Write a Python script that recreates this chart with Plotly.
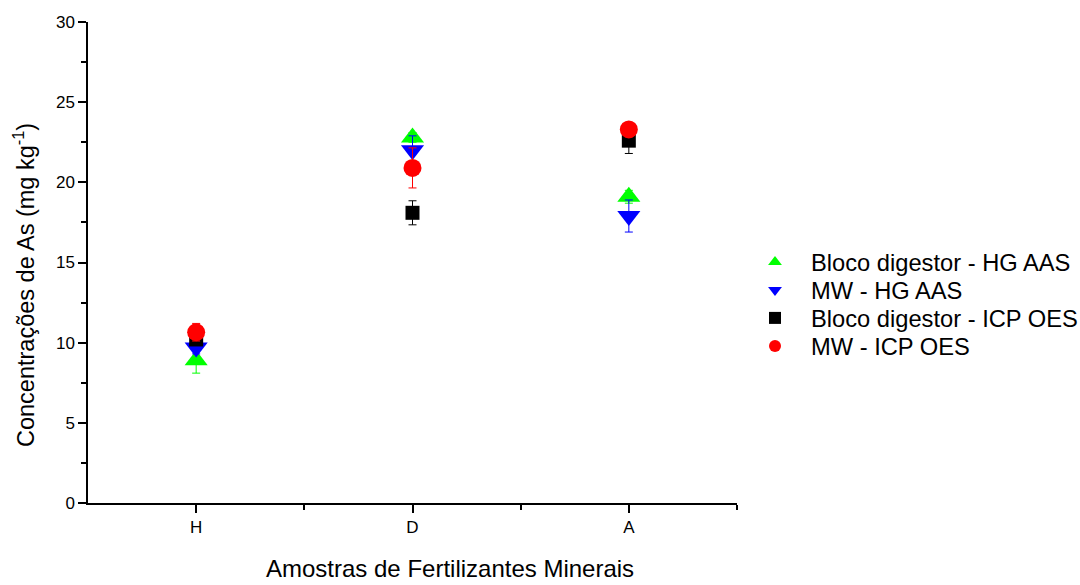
import plotly.graph_objects as go

# Fertilizer samples and arsenic concentrations (mg/kg)
samples = ["H", "D", "A"]
sample_pos = [1, 2, 3]

bloco_hg = [8.9, 22.8, 19.1]
bloco_hg_err = [0.8, 0.3, 0.4]

mw_hg = [9.7, 22.0, 17.9]
mw_hg_err = [0.4, 0.9, 1.0]

bloco_icp = [10.2, 18.1, 22.6]
bloco_icp_err = [0.3, 0.75, 0.8]

mw_icp = [10.65, 20.9, 23.3]
mw_icp_err = [0.55, 1.25, 0.3]

series = [
    ("Bloco digestor - HG AAS", bloco_hg, bloco_hg_err, "triangle-up", "#00ff00", 20),
    ("MW - HG AAS", mw_hg, mw_hg_err, "triangle-down", "#0000ff", 20),
    ("Bloco digestor - ICP OES", bloco_icp, bloco_icp_err, "square", "#000000", 14),
    ("MW - ICP OES", mw_icp, mw_icp_err, "circle", "#ff0000", 18),
]

font_family = "Liberation Sans, Arial, sans-serif"

# plot area in pixels (for placing the legend rows)
plot_left, plot_right = 88, 737
plot_top, plot_bottom = 22, 503
legend_rows_px = [262, 290, 318, 346]
legend_ids = ["legend", "legend2", "legend3", "legend4"]

fig = go.Figure()
for (name, vals, errs, sym, col, size), lid in zip(series, legend_ids):
    fig.add_trace(go.Scatter(
        x=sample_pos, y=vals, mode="markers", name=name, legend=lid,
        marker=dict(symbol=sym, color=col, size=size, line=dict(width=0)),
        error_y=dict(type="data", array=errs, visible=True, color=col,
                     thickness=1, width=4),
    ))

legend_layout = {}
for lid, ypx in zip(legend_ids, legend_rows_px):
    legend_layout[lid] = dict(
        x=(739 - plot_left) / (plot_right - plot_left),
        y=(plot_bottom - ypx) / (plot_bottom - plot_top),
        xanchor="left", yanchor="middle",
        font=dict(size=23.7, family=font_family),
        itemsizing="constant", itemwidth=62,
        bgcolor="rgba(0,0,0,0)",
    )

fig.update_layout(
    width=1080, height=585,
    paper_bgcolor="white", plot_bgcolor="white",
    margin=dict(l=plot_left, r=1080 - plot_right, t=plot_top, b=585 - plot_bottom,
                autoexpand=False),
    font=dict(family=font_family, color="black", size=17),
    showlegend=True,
    **legend_layout,
    xaxis=dict(
        range=[0.5, 3.5], tickmode="array", tickvals=sample_pos, ticktext=samples,
        showline=True, linecolor="black", linewidth=1.5, mirror=False,
        ticks="outside", ticklen=8, tickwidth=1.5, tickcolor="black",
        minor=dict(tickmode="array", tickvals=[1.5, 2.5, 3.5], ticks="outside",
                   ticklen=5, tickwidth=1.5, tickcolor="black"),
        showgrid=False, zeroline=False, tickfont=dict(size=17),
    ),
    yaxis=dict(
        range=[0, 30], tickmode="linear", tick0=0, dtick=5,
        showline=True, linecolor="black", linewidth=1.5, mirror=False,
        ticks="outside", ticklen=8, tickwidth=1.5, tickcolor="black",
        minor=dict(tickmode="linear", tick0=0, dtick=2.5, ticks="outside",
                   ticklen=5, tickwidth=1.5, tickcolor="black"),
        showgrid=False, zeroline=False, tickfont=dict(size=17),
    ),
    annotations=[
        dict(text="Amostras de Fertilizantes Minerais", xref="paper", yref="paper",
             x=(450 - plot_left) / (plot_right - plot_left), y=-0.168,
             xanchor="center", yanchor="bottom",
             showarrow=False, font=dict(size=24)),
        dict(text="Concentrações de As (mg kg<sup>-1</sup>)", xref="paper", yref="paper",
             x=(24 - plot_left) / (plot_right - plot_left),
             y=(plot_bottom - 285) / (plot_bottom - plot_top),
             xanchor="center", yanchor="middle", textangle=-90,
             showarrow=False, font=dict(size=23.5)),
    ],
)

fig.write_html("out.html")
